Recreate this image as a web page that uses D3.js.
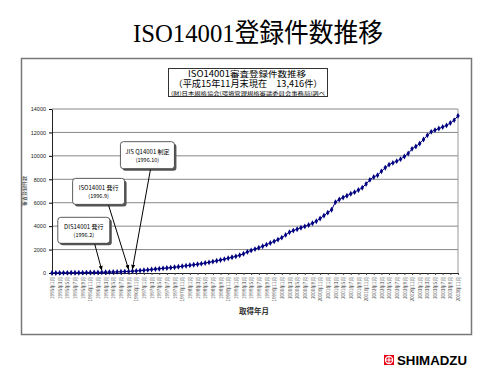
<!DOCTYPE html>
<html>
<head>
<meta charset="utf-8">
<script src="https://cdn.jsdelivr.net/npm/d3@7"></script>
<style>
  body { margin: 0; background: #fff; }
  svg { display: block; }
</style>
</head>
<body>
<div id="chart"></div>
<script>
// Cumulative ISO14001 registrations, monthly, 1995.1 - 2003.11
const startYear = 1995;
const values = [
  3, 5, 8, 11, 14, 18, 22, 26, 30, 35, 40, 46,                          // 1995
  52, 58, 66, 75, 84, 95, 108, 122, 138, 156, 178, 205,                 // 1996
  235, 265, 300, 335, 365, 395, 425, 455, 490, 530, 575, 620,           // 1997
  660, 700, 750, 800, 855, 910, 975, 1040, 1110, 1180, 1260, 1340,      // 1998
  1420, 1520, 1640, 1800, 1930, 2040, 2160, 2280, 2420, 2560, 2700, 2850, // 1999
  3020, 3250, 3480, 3620, 3740, 3860, 3980, 4100, 4250, 4420, 4650, 4900, // 2000
  5150, 5400, 6050, 6280, 6450, 6600, 6760, 6900, 7080, 7280, 7600, 7950, // 2001
  8200, 8350, 8680, 8980, 9250, 9400, 9550, 9720, 9950, 10200, 10600, 10800, // 2002
  11050, 11400, 11750, 12050, 12200, 12330, 12460, 12600, 12800, 13050, 13416 // 2003
];
const yTicks = [0, 2000, 4000, 6000, 8000, 10000, 12000, 14000];

const events = [
  {month: '1996年2月', name: 'DIS14001 発行', date: '(1996.2)'},
  {month: '1996年9月', name: 'ISO14001 発行', date: '(1996.9)'},
  {month: '1996年10月', name: 'JIS Q14001 制定', date: '(1996.10)'}
];

const mainTitle = 'ISO14001登録件数推移';
const boxLines = [
  'ISO14001審査登録件数推移',
  '（平成15年11月末現在　13,416件）',
  '(財)日本規格協会(環境管理規格審議委員会事務局)調べ'
];
const yTitle = '審査登録件数';
const xTitle = '取得年月';

// month categories
const months = values.map((v, i) => {
  const y = startYear + Math.floor(i / 12);
  const m = (i % 12) + 1;
  return `${y}年${m}月`;
});
const data = months.map((m, i) => ({month: m, value: values[i]}));
const xTickValues = months.filter((m, i) => i % 2 === 0);

const W = 500, H = 375;
const plot = {left: 52, right: 458, top: 109, bottom: 273};
const jp = "'Noto Sans CJK JP', 'Liberation Sans', sans-serif";

const svg = d3.select('#chart').append('svg')
  .attr('width', W)
  .attr('height', H);

svg.append('rect').attr('width', W).attr('height', H).attr('fill', '#fff');

// page title
svg.append('text')
  .attr('x', 258)
  .attr('y', 42)
  .attr('text-anchor', 'middle')
  .attr('font-family', "'Liberation Serif', 'Noto Sans CJK JP', serif")
  .attr('font-size', 26)
  .attr('textLength', 250)
  .attr('lengthAdjust', 'spacingAndGlyphs')
  .text(mainTitle);

// outer frame
svg.append('rect')
  .attr('x', 21.5).attr('y', 58.5)
  .attr('width', 450).attr('height', 276)
  .attr('fill', 'none')
  .attr('stroke', '#777')
  .attr('stroke-width', 1.5);

// scales
const x = d3.scalePoint()
  .domain(months)
  .range([plot.left, plot.right]);

const y = d3.scaleLinear()
  .domain([0, 14000])
  .range([plot.bottom, plot.top]);

// gridlines
svg.append('g')
  .selectAll('line')
  .data(yTicks.filter(d => d > 0))
  .enter()
  .append('line')
  .attr('x1', plot.left).attr('x2', plot.right)
  .attr('y1', d => y(d)).attr('y2', d => y(d))
  .attr('stroke', '#888')
  .attr('stroke-width', 1);

// right border of plot
svg.append('line')
  .attr('x1', plot.right).attr('x2', plot.right)
  .attr('y1', plot.top).attr('y2', plot.bottom)
  .attr('stroke', '#999');

// y axis
const yAxis = svg.append('g')
  .attr('transform', `translate(${plot.left},0)`)
  .call(d3.axisLeft(y).tickValues(yTicks).tickSize(3).tickSizeOuter(0).tickPadding(3).tickFormat(d3.format('d')));
yAxis.selectAll('text')
  .attr('font-family', "'Liberation Sans', sans-serif")
  .attr('font-size', 5.5)
  .attr('fill', '#222');
yAxis.select('.domain').attr('stroke', '#222');

svg.append('text')
  .attr('transform', `translate(26, ${(plot.top + plot.bottom) / 2}) rotate(-90)`)
  .attr('text-anchor', 'middle')
  .attr('font-family', jp)
  .attr('font-size', 5)
  .attr('fill', '#333')
  .text(yTitle);

// x axis
const xAxis = svg.append('g')
  .attr('transform', `translate(0,${plot.bottom})`)
  .call(d3.axisBottom(x).tickValues(xTickValues).tickSize(2).tickSizeOuter(0).tickPadding(3));
xAxis.select('.domain').attr('stroke', '#222');
xAxis.selectAll('line').attr('stroke', '#444');
xAxis.selectAll('text')
  .attr('font-family', jp)
  .attr('font-size', 4.6)
  .attr('fill', '#444')
  .attr('text-anchor', 'end')
  .attr('dy', '0.35em')
  .attr('transform', 'translate(0,4) rotate(-90)')
  .attr('x', 0)
  .attr('y', 0);

svg.append('text')
  .attr('x', 254)
  .attr('y', 314)
  .attr('text-anchor', 'middle')
  .attr('font-family', jp)
  .attr('font-size', 7.5)
  .attr('font-weight', 'bold')
  .attr('fill', '#333')
  .text(xTitle);

// series
const line = d3.line()
  .x(d => x(d.month))
  .y(d => y(d.value));

svg.append('path')
  .datum(data)
  .attr('fill', 'none')
  .attr('stroke', '#000080')
  .attr('stroke-width', 1)
  .attr('d', line);

svg.append('g')
  .selectAll('path')
  .data(data)
  .enter()
  .append('path')
  .attr('transform', d => `translate(${x(d.month)},${y(d.value)})`)
  .attr('d', d3.symbol(d3.symbolDiamond, 10))
  .attr('fill', '#000080');

// chart title box
const box = svg.append('g');
box.append('rect')
  .attr('x', 168.5).attr('y', 68.5)
  .attr('width', 159).attr('height', 28)
  .attr('fill', '#fff')
  .attr('stroke', '#333');
box.append('text')
  .attr('x', 247).attr('y', 76.5)
  .attr('text-anchor', 'middle')
  .attr('font-family', jp)
  .attr('font-size', 8.5)
  .attr('textLength', 118)
  .attr('lengthAdjust', 'spacingAndGlyphs')
  .text(boxLines[0]);
box.append('text')
  .attr('x', 248).attr('y', 87)
  .attr('text-anchor', 'middle')
  .attr('font-family', jp)
  .attr('font-size', 9)
  .attr('textLength', 149)
  .attr('lengthAdjust', 'spacingAndGlyphs')
  .text(boxLines[1]);
box.append('text')
  .attr('x', 248).attr('y', 94.5)
  .attr('text-anchor', 'middle')
  .attr('font-family', jp)
  .attr('font-size', 5)
  .attr('textLength', 154)
  .attr('lengthAdjust', 'spacingAndGlyphs')
  .text(boxLines[2]);

// callouts
svg.append('defs').append('marker')
  .attr('id', 'arrow')
  .attr('viewBox', '0 0 10 10')
  .attr('refX', 9).attr('refY', 5)
  .attr('markerWidth', 5).attr('markerHeight', 5)
  .attr('orient', 'auto')
  .append('path')
  .attr('d', 'M0,1 L10,5 L0,9 Z')
  .attr('fill', '#000');

// box placement relative to the arrow tip
const callout = [
  {dx: -18, dy: -40, w: 52, h: 26, sx: 11},
  {dx: -30, dy: -78, w: 52, h: 26, sx: 10},
  {dx: 15, dy: -114, w: 54, h: 27, sx: 3}
];

events.forEach((e, i) => {
  const c = callout[i];
  const d = data.find(p => p.month === e.month);
  const tx = x(e.month);
  const ty = y(d.value) - 2;
  const cx = tx + c.dx;
  const cy = ty + c.dy;
  const g = svg.append('g');
  g.append('rect')
    .attr('x', cx - c.w / 2 + 2).attr('y', cy - c.h / 2 + 2)
    .attr('width', c.w).attr('height', c.h)
    .attr('rx', 3)
    .attr('fill', '#555');
  g.append('rect')
    .attr('x', cx - c.w / 2).attr('y', cy - c.h / 2)
    .attr('width', c.w).attr('height', c.h)
    .attr('rx', 3)
    .attr('fill', '#fff')
    .attr('stroke', '#333')
    .attr('stroke-width', 0.8);
  g.append('text')
    .attr('x', cx).attr('y', cy - 1)
    .attr('text-anchor', 'middle')
    .attr('font-family', jp)
    .attr('font-size', 6)
    .text(e.name);
  g.append('text')
    .attr('x', cx).attr('y', cy + 7)
    .attr('text-anchor', 'middle')
    .attr('font-family', jp)
    .attr('font-size', 5.5)
    .text(e.date);
  g.append('line')
    .attr('x1', cx + c.sx).attr('y1', cy + c.h / 2 + 1)
    .attr('x2', tx).attr('y2', ty)
    .attr('stroke', '#000')
    .attr('stroke-width', 1)
    .attr('marker-end', 'url(#arrow)');
});

// SHIMADZU logo
const logo = svg.append('g').attr('transform', 'translate(384,355)');
logo.append('rect').attr('width', 10).attr('height', 10).attr('fill', '#e60012');
logo.append('circle').attr('cx', 5).attr('cy', 5).attr('r', 3.6)
  .attr('fill', 'none').attr('stroke', '#fff').attr('stroke-width', 1.2);
logo.append('line').attr('x1', 1).attr('x2', 9).attr('y1', 5).attr('y2', 5)
  .attr('stroke', '#fff').attr('stroke-width', 1.1);
logo.append('line').attr('x1', 5).attr('x2', 5).attr('y1', 1).attr('y2', 9)
  .attr('stroke', '#fff').attr('stroke-width', 1.1);
svg.append('text')
  .attr('x', 397).attr('y', 365)
  .attr('font-family', "'Liberation Sans', 'DejaVu Sans', sans-serif")
  .attr('font-weight', 900)
  .attr('font-size', 12)
  .attr('textLength', 70)
  .attr('lengthAdjust', 'spacingAndGlyphs')
  .text('SHIMADZU');
</script>
</body>
</html>
